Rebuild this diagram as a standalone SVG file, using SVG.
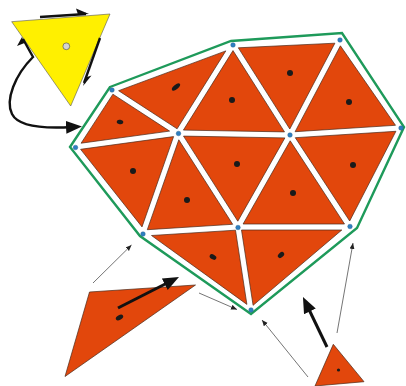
<svg xmlns="http://www.w3.org/2000/svg" width="406" height="386" viewBox="0 0 406 386">
<style>
.tri{fill:#E2470C;stroke:#4a2a1a;stroke-width:0.7;stroke-linejoin:round}
.dot{fill:#1a1a1a}
.vtx{fill:#2F7FC1;stroke:#1d5a8c;stroke-width:0.4}
.hull{fill:none;stroke:#1E9A5A;stroke-width:2.4;stroke-linejoin:miter}
.thin{fill:none;stroke:#3a3a3a;stroke-width:0.7;marker-end:url(#ah)}
.thick{fill:none;stroke:#111;stroke-width:3;marker-end:url(#AH)}
.harp{fill:none;stroke:#111;stroke-width:2.4}
</style>
<defs>
<marker id="ah" markerUnits="userSpaceOnUse" markerWidth="7" markerHeight="6" refX="6" refY="2.5" orient="auto"><path d="M0,0 L6,2.5 L0,5 z" fill="#222"/></marker>
<marker id="AH" markerUnits="userSpaceOnUse" markerWidth="17" markerHeight="14" refX="6" refY="6.5" orient="auto"><path d="M0,0 L16,6.5 L0,13 z" fill="#111"/></marker>
</defs>
<rect width="406" height="386" fill="#fff"/>

<path class="hull" d="M110,87 L231,41 L342,33 L404,127 L357,228 L251,314 L140,236 L70,147 Z"/>

<g id="mesh">
<g id="t1"><polygon class="tri" points="118.6,90.7 225.8,50.9 177.1,128.8"/><ellipse class="dot" cx="176" cy="87" rx="5" ry="2.2" transform="rotate(-40 176 87)"/></g>
<g id="t2"><polygon class="tri" points="112.9,94.2 169.6,131.1 81.1,143.2"/><ellipse class="dot" cx="120" cy="122" rx="3.3" ry="2.2" transform="rotate(10 120 122)"/></g>
<g id="t3"><polygon class="tri" points="238.3,47.8 334.9,43.2 289.8,129.0"/><circle class="dot" cx="290" cy="73" r="3"/></g>
<g id="t4"><polygon class="tri" points="233.0,50.6 284.5,131.9 183.4,130.1"/><circle class="dot" cx="232" cy="100" r="3"/></g>
<g id="t5"><polygon class="tri" points="340.4,45.8 395.5,125.3 295.1,131.7"/><circle class="dot" cx="349" cy="102" r="3"/></g>
<g id="t6"><polygon class="tri" points="80.6,149.3 173.6,136.6 142.0,226.9"/><circle class="dot" cx="133" cy="171" r="3"/></g>
<g id="t7"><polygon class="tri" points="178.8,139.8 147.3,229.7 232.7,224.3"/><circle class="dot" cx="187" cy="200" r="3"/></g>
<g id="t8"><polygon class="tri" points="183.5,136.1 284.9,137.9 237.8,221.2"/><circle class="dot" cx="237" cy="164" r="3"/></g>
<g id="t9"><polygon class="tri" points="290.2,140.8 243.1,224.0 344.5,224.0"/><circle class="dot" cx="293" cy="193" r="3"/></g>
<g id="t10"><polygon class="tri" points="295.3,137.7 395.9,131.3 349.7,221.0"/><circle class="dot" cx="353" cy="165" r="3"/></g>
<g id="t11"><polygon class="tri" points="151.5,235.5 235.5,230.2 246.9,304.4"/><ellipse class="dot" cx="213" cy="257" rx="3.6" ry="2.4" transform="rotate(30 213 257)"/></g>
<g id="t12"><polygon class="tri" points="241.5,230.0 341.8,230.0 253.1,305.3"/><ellipse class="dot" cx="281" cy="255" rx="3.6" ry="2.4" transform="rotate(-40 281 255)"/></g>
</g>

<g id="vertices">
<circle class="vtx" cx="112" cy="90" r="2.3"/>
<circle class="vtx" cx="233" cy="45" r="2.3"/>
<circle class="vtx" cx="340" cy="40" r="2.3"/>
<circle class="vtx" cx="401" cy="128" r="2.3"/>
<circle class="vtx" cx="290" cy="135" r="2.3"/>
<circle class="vtx" cx="178.5" cy="133.5" r="2.3"/>
<circle class="vtx" cx="75.5" cy="147.5" r="2.3"/>
<circle class="vtx" cx="143" cy="234" r="2.3"/>
<circle class="vtx" cx="238" cy="227.5" r="2.3"/>
<circle class="vtx" cx="350" cy="226.5" r="2.3"/>
<circle class="vtx" cx="251" cy="310" r="2.3"/>
</g>

<g id="yellow">
<polygon points="11.7,21.7 110,14 70.7,106" fill="#FFF000" stroke="#555" stroke-width="0.6"/>
<circle cx="66.3" cy="46.3" r="3.4" fill="#d4d4d4" stroke="#444" stroke-width="0.6"/>
</g>

<g id="loose-left">
<polygon class="tri" points="89.5,292 195.5,285 65,376.5"/>
<ellipse class="dot" cx="119.5" cy="317.5" rx="4" ry="2.4" transform="rotate(-30 119.5 317.5)"/>
</g>

<g id="loose-right">
<polygon class="tri" points="333.3,344.3 364,381.7 315,386"/>
<circle class="dot" cx="338.5" cy="370" r="1.6"/>
</g>

<g id="connectors">
<path class="harp" d="M40,17 L86,14"/>
<path d="M89,14 L76,8.5 L78,14.6 Z" fill="#111"/>
<path class="harp" d="M100,38 L84,83"/>
<path d="M83,86 L91.5,75.5 L85.5,77.5 Z" fill="#111"/>
<path class="harp" d="M23,39 L33,57 C 15,75 5,100 12,114 C 18,126 40,129 72,127" marker-end="url(#AH)"/>
<path d="M22,37 L17,46 L24.5,43 Z" fill="#111"/>
<path class="thick" d="M118,308 L170.1,281.5"/>
<path class="thick" d="M327,347 L307.3,306"/>
<path class="thin" d="M93,283 L131.5,245"/>
<path class="thin" d="M199,293 L237,309.5"/>
<path class="thin" d="M308,377 L262,320"/>
<path class="thin" d="M337,333 L353,243"/>
</g>
</svg>
